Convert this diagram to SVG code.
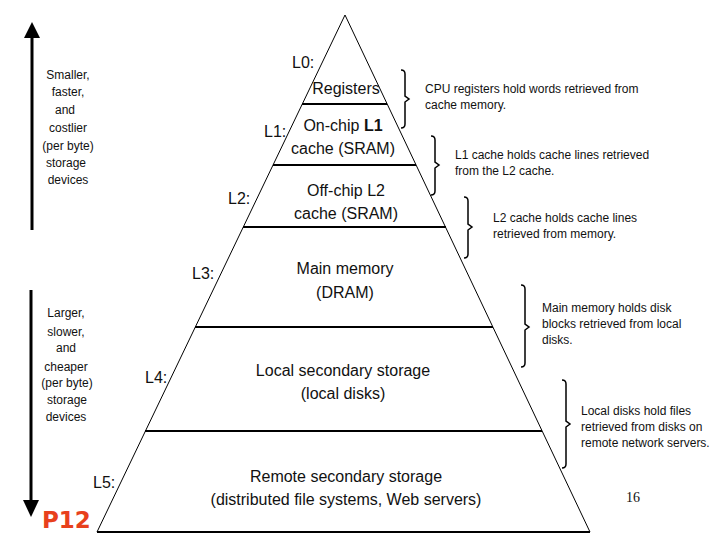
<svg xmlns="http://www.w3.org/2000/svg" width="720" height="540" viewBox="0 0 720 540">
<style>
.lvl{font-family:"Liberation Sans",Arial,sans-serif;font-size:16px;fill:#111;text-anchor:middle}
.lab{font-family:"Liberation Sans",Arial,sans-serif;font-size:16px;fill:#111}
.note{font-family:"Liberation Sans",Arial,sans-serif;font-size:12px;fill:#111}
.side{font-family:"Liberation Sans",Arial,sans-serif;font-size:12px;fill:#111;text-anchor:middle}
.edge{stroke:#000;stroke-width:1;fill:none}
.sep{stroke:#000;stroke-width:2;fill:none}
.brace{stroke:#000;stroke-width:1.5;fill:none}
</style>
<rect width="720" height="540" fill="#fff"/>
<g id="pyramid">
<path class="edge" d="M97,532 L345,15 L590,532"/>
<line class="sep" x1="97" y1="532" x2="590" y2="532"/>
<line class="sep" x1="302" y1="104" x2="387" y2="104"/>
<line class="sep" x1="273" y1="165" x2="416" y2="165"/>
<line class="sep" x1="243" y1="227" x2="446" y2="227"/>
<line class="sep" x1="195" y1="327" x2="493" y2="327"/>
<line class="sep" x1="145" y1="431" x2="542" y2="431"/>
</g>
<g id="L0"><text class="lab" x="292" y="68">L0:</text><text class="lvl" x="346" y="94">Registers</text></g>
<g id="L1"><text class="lab" x="264" y="137">L1:</text><text class="lvl" x="343" y="131">On-chip <tspan font-weight="bold">L1</tspan></text><text class="lvl" x="343" y="154">cache (SRAM)</text></g>
<g id="L2"><text class="lab" x="228" y="204">L2:</text><text class="lvl" x="346" y="196">Off-chip L2</text><text class="lvl" x="346" y="219">cache (SRAM)</text></g>
<g id="L3"><text class="lab" x="192" y="279">L3:</text><text class="lvl" x="345" y="274">Main memory</text><text class="lvl" x="345" y="298">(DRAM)</text></g>
<g id="L4"><text class="lab" x="145" y="383">L4:</text><text class="lvl" x="343" y="376">Local secondary storage</text><text class="lvl" x="343" y="399">(local disks)</text></g>
<g id="L5"><text class="lab" x="93" y="488">L5:</text><text class="lvl" x="346" y="482">Remote secondary storage</text><text class="lvl" x="346" y="505">(distributed file systems, Web servers)</text></g>
<g id="connectors">
<path class="brace" d="M401,70 Q405,70 405,74 L405,96 L409,99 L405,102 L405,124 Q405,128 401,128"/>
<path class="brace" d="M431,136 Q435,136 435,140 L435,162 L439,165 L435,168 L435,191 Q435,195 431,195"/>
<path class="brace" d="M464,197 Q468,197 468,201 L468,224 L472,227 L468,230 L468,254 Q468,258 464,258"/>
<path class="brace" d="M521,285 Q525,285 525,289 L525,324 L529,327 L525,330 L525,363 Q525,367 521,367"/>
<path class="brace" d="M562,380 Q566,380 566,384 L566,421 L570,424 L566,427 L566,464 Q566,468 562,468"/>
<line x1="32" y1="230" x2="32" y2="36" stroke="#000" stroke-width="3"/>
<polygon points="32,22 24,38 40,38" fill="#000"/>
<line x1="31" y1="290" x2="31" y2="502" stroke="#000" stroke-width="3"/>
<polygon points="31,517 23,500 39,500" fill="#000"/>
</g>
<g id="notes">
<text class="note" x="425" y="93">CPU registers hold words retrieved from</text>
<text class="note" x="425" y="109">cache memory.</text>
<text class="note" x="455" y="159">L1 cache holds cache lines retrieved</text>
<text class="note" x="455" y="175">from the L2 cache.</text>
<text class="note" x="493" y="222">L2 cache holds cache lines</text>
<text class="note" x="493" y="238">retrieved from memory.</text>
<text class="note" x="542" y="312">Main memory holds disk</text>
<text class="note" x="542" y="328">blocks retrieved from local</text>
<text class="note" x="542" y="344">disks.</text>
<text class="note" x="581" y="415">Local disks hold files</text>
<text class="note" x="581" y="431">retrieved from disks on</text>
<text class="note" x="581" y="447">remote network servers.</text>
</g>
<g id="side">
<text class="side" x="68" y="79">Smaller,</text>
<text class="side" x="68" y="96">faster,</text>
<text class="side" x="65" y="114">and</text>
<text class="side" x="68" y="132">costlier</text>
<text class="side" x="68" y="150">(per byte)</text>
<text class="side" x="66" y="167">storage</text>
<text class="side" x="68" y="184">devices</text>
<text class="side" x="66" y="317">Larger,</text>
<text class="side" x="66" y="336">slower,</text>
<text class="side" x="66" y="352">and</text>
<text class="side" x="66" y="371">cheaper</text>
<text class="side" x="67" y="387">(per byte)</text>
<text class="side" x="67" y="404">storage</text>
<text class="side" x="66" y="421">devices</text>
</g>
<text x="42" y="528" font-family="'DejaVu Sans',Verdana,sans-serif" font-weight="bold" font-size="23" fill="#e8401c">P12</text>
<text x="626" y="502" font-family="'Liberation Serif','Times New Roman',serif" font-size="14" fill="#111">16</text>
</svg>
